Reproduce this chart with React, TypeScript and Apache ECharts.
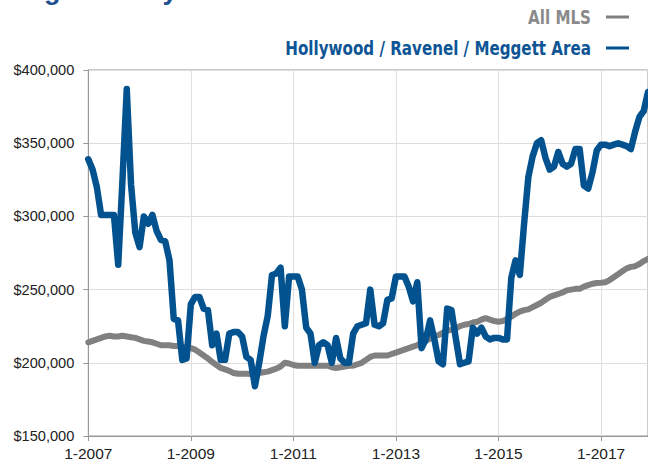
import React, { useEffect, useRef } from "react";
import * as echarts from "echarts";

// Monthly categories, 1-2007 through 12-2017
const startYear = 2007;
const endYear = 2017;
const months: string[] = [];
for (let y = startYear; y <= endYear; y++) {
  for (let m = 1; m <= 12; m++) months.push(`${m}-${y}`);
}

const seriesNames = ["All MLS", "Hollywood / Ravenel / Meggett Area"];

// All MLS median price (USD)
const allMls = [
  214000, 215000, 216000, 217000, 218000, 218500, 218000, 218000, 218500, 218000, 217500, 217000,
  216000, 215000, 214500, 214000, 213000, 212000, 212000, 212000, 211500, 211500, 211000, 210500,
  210000, 209000, 207000, 205000, 203000, 200500, 198500, 196500, 195500, 194500, 193000, 192500,
  192500, 192500, 192300, 192500, 193000, 193500, 194000, 195000, 196000, 197500, 200000, 199500,
  198500, 198000, 198000, 198000, 198000, 198000, 198000, 198000, 198000, 197000, 196500, 197000,
  197500, 198000, 198000, 199000, 200000, 202000, 204000, 205000, 205000, 205000, 205000, 206000,
  207000, 208000, 209000, 210000, 211000, 212000, 213500, 215000, 216500, 218000, 219000, 220500,
  222000, 222500, 223500, 225000, 226000, 226500, 227500, 228000, 229500, 230500, 229500, 228500,
  228000, 228500, 230000, 231500, 233500, 235000, 236000, 236500, 238000, 239500, 241000, 243000,
  245000, 246000, 247000, 248000, 249500, 250000, 250500, 250500, 252000, 253000, 254000, 254500,
  254700, 255000, 256500, 258500, 260500, 262500, 264500, 265500, 266000, 267500, 269500, 271000,
];

// Hollywood / Ravenel / Meggett Area median price (USD)
const hollywood = [
  339000, 332000, 320000, 301000, 301000, 301000, 301000, 267000, 325000, 387000, 322000, 289000,
  279000, 300000, 295000, 301000, 290000, 284000, 283000, 270000, 230000, 229000, 202000, 203000,
  240000, 245000, 245000, 237000, 236000, 212000, 220000, 202000, 202000, 220000, 221000, 221000,
  218000, 204000, 202000, 184000, 200000, 218000, 232000, 260000, 261000, 265000, 225000, 259000,
  259000, 259000, 250000, 224000, 220000, 200000, 212000, 214000, 212000, 200000, 217000, 203000,
  200000, 200000, 220000, 225000, 226000, 227000, 250000, 226000, 225000, 227000, 243000, 244000,
  259000, 259000, 259000, 252000, 242000, 255000, 210000, 216000, 229000, 216000, 201000, 199000,
  237000, 236000, 217000, 199000, 200000, 201000, 224000, 220000, 224000, 218000, 216000, 217000,
  217000, 216000, 216000, 258000, 270000, 260000, 295000, 327000, 341000, 350000, 352000, 340000,
  332000, 334000, 344000, 336000, 334000, 336000, 346000, 346000, 321000, 319000, 330000, 345000,
  349000, 349000, 348000, 349000, 350000, 349000, 348000, 346000, 358000, 368000, 372000, 385000,
];

const yMin = 150000;
const yMax = 400000;
const yStep = 50000;

export default function App() {
  const ref = useRef<HTMLDivElement>(null);

  useEffect(() => {
    if (!ref.current) return;
    const chart = echarts.init(ref.current, null, { renderer: "svg" });
    const gray = "#808080";
    const blue = "#02528f";
    const legendFont = 'bold 19px "Liberation Sans Narrow", "DejaVu Sans Condensed", sans-serif';
    chart.setOption({
      animation: false,
      backgroundColor: "#ffffff",
      grid: {
        left: 88.3,
        right: -2.3,
        top: 70,
        bottom: 30,
        containLabel: false,
        show: true,
        borderColor: "#999999",
        borderWidth: 1,
      },
      xAxis: {
        type: "category",
        data: months,
        boundaryGap: false,
        axisLine: { lineStyle: { color: "#999999", width: 1 } },
        axisTick: { show: true, interval: 23, length: 5, lineStyle: { color: "#999999" } },
        axisLabel: {
          interval: 23,
          margin: 9,
          color: "#222222",
          fontSize: 15.5,
          fontFamily: '"Liberation Sans", Arial, sans-serif',
        },
        splitLine: { show: true, interval: 23, lineStyle: { color: "#e0e0e0", width: 1 } },
      },
      yAxis: {
        type: "value",
        min: yMin,
        max: yMax,
        interval: yStep,
        axisLine: { show: true, lineStyle: { color: "#999999", width: 1 } },
        axisTick: { show: true, length: 5, lineStyle: { color: "#999999" } },
        axisLabel: {
          margin: 14,
          color: "#222222",
          fontSize: 14.6,
          fontFamily: '"Liberation Sans", Arial, sans-serif',
          formatter: (v: number) => "$" + v.toLocaleString("en-US"),
        },
        splitLine: { show: true, lineStyle: { color: "#dddddd", width: 1 } },
      },
      series: [
        {
          name: seriesNames[0],
          type: "line",
          data: allMls,
          showSymbol: false,
          smooth: false,
          lineStyle: { color: gray, width: 6, join: "round", cap: "round" },
          itemStyle: { color: gray },
          z: 2,
        },
        {
          name: seriesNames[1],
          type: "line",
          data: hollywood,
          showSymbol: false,
          smooth: false,
          lineStyle: { color: blue, width: 6.5, join: "round", cap: "round" },
          itemStyle: { color: blue },
          z: 3,
        },
      ],
      graphic: [
        {
          type: "text",
          x: 2,
          y: 3.5,
          style: {
            text: "Single-Family Detached",
            fill: "#1d5190",
            font: 'bold 27px "Liberation Sans", Arial, sans-serif',
            textAlign: "left",
            textVerticalAlign: "bottom",
          },
        },
        {
          type: "text",
          x: 591,
          y: 17,
          scaleX: 0.885,
          style: {
            text: seriesNames[0],
            fill: "#8a8a8a",
            font: legendFont,
            textAlign: "right",
            textVerticalAlign: "middle",
          },
        },
        {
          type: "line",
          shape: { x1: 606, y1: 17, x2: 629, y2: 17 },
          style: { stroke: gray, lineWidth: 3 },
        },
        {
          type: "text",
          x: 591,
          y: 48,
          scaleX: 0.885,
          style: {
            text: seriesNames[1],
            fill: "#0d5595",
            font: legendFont,
            textAlign: "right",
            textVerticalAlign: "middle",
          },
        },
        {
          type: "line",
          shape: { x1: 606, y1: 48, x2: 629, y2: 48 },
          style: { stroke: blue, lineWidth: 3 },
        },
      ],
    });
    return () => chart.dispose();
  }, []);

  return (
    <div
      ref={ref}
      style={{ position: "absolute", left: 0, top: 0, width: 648, height: 466, overflow: "hidden" }}
    />
  );
}
